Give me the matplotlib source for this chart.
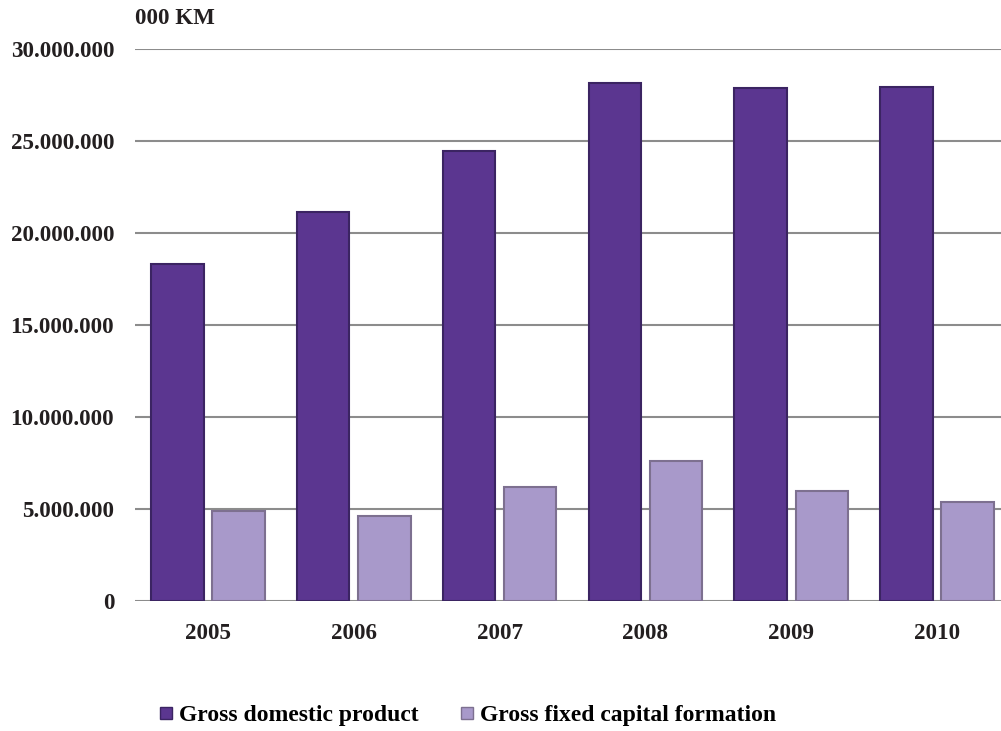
import matplotlib
matplotlib.use("Agg")
import matplotlib.pyplot as plt
import numpy as np
from matplotlib.ticker import FuncFormatter
from matplotlib.lines import Line2D

# data (000 KM)
years = ["2005", "2006", "2007", "2008", "2009", "2010"]
gdp = [18300000, 21150000, 24450000, 28150000, 27900000, 27950000]
gfcf = [4900000, 4620000, 6200000, 7600000, 6000000, 5400000]
series_names = ["Gross domestic product", "Gross fixed capital formation"]

plt.rcParams['font.family'] = ['Liberation Serif', 'DejaVu Serif']
plt.rcParams['font.weight'] = 'bold'

fig = plt.figure(figsize=(10.01, 7.31), dpi=100)
ax = fig.add_axes([135/1001, 130/731, 875/1001, 552/731])

x = np.arange(len(years))
w = 0.36
off = 0.21
ax.bar(x - off, gdp, w, color="#5b3690", edgecolor="#3b2462", linewidth=1.5, zorder=3)
ax.bar(x + off, gfcf, w, color="#a899ca", edgecolor="#7d7090", linewidth=1.5, zorder=3)

ax.set_xlim(-0.5, 5.5)
ax.set_ylim(0, 30000000)
ax.set_yticks(np.arange(0, 30000001, 5000000))
ax.yaxis.set_major_formatter(FuncFormatter(lambda v, p: "{:,}".format(int(v)).replace(",", ".")))
ax.set_xticks(x)
ax.set_xticklabels(years)
ax.tick_params(axis='both', length=0, labelsize=16.6, colors="#231f20")
ax.tick_params(axis='y', pad=15)
ax.tick_params(axis='x', pad=16)
ax.yaxis.grid(True, color="#8c8c8c", linewidth=1.5, zorder=0)
ax.set_axisbelow(True)
for s in ax.spines.values():
    s.set_visible(False)

fig.text(135/1001, 1 - 18/731, "000 KM", fontsize=16.6, fontweight='bold',
         color="#231f20", va='center', ha='left')

handles = [Line2D([], [], marker='s', linestyle='none', markersize=9,
                  markerfacecolor="#5b3690", markeredgecolor="#3b2462"),
           Line2D([], [], marker='s', linestyle='none', markersize=9,
                  markerfacecolor="#a899ca", markeredgecolor="#7d7090")]
fig.legend(handles, series_names, loc='center', bbox_to_anchor=(467/1001, 16/731),
           ncol=2, frameon=False, fontsize=17, handletextpad=0.2,
           columnspacing=1.7, handlelength=0.7)

fig.savefig("out.png", dpi=100)
